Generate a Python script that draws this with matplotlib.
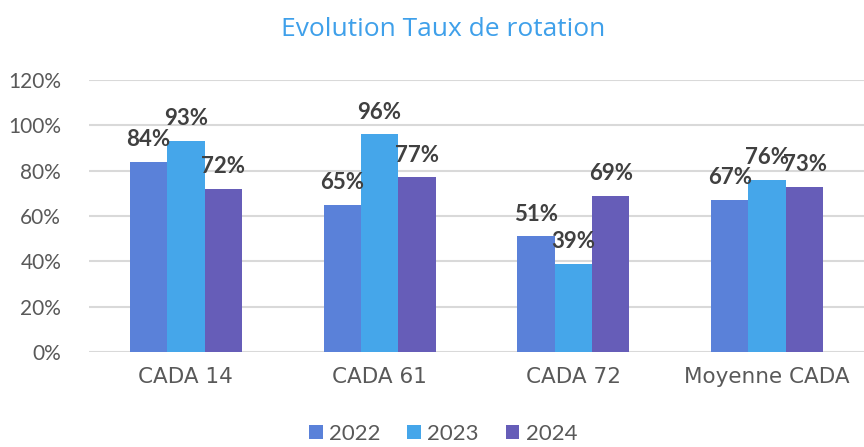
import numpy as np
import matplotlib.pyplot as plt

categories = ['CADA 14', 'CADA 61', 'CADA 72', 'Moyenne CADA']
years = ['2022', '2023', '2024']
v2022 = [84, 65, 51, 67]
v2023 = [93, 96, 39, 76]
v2024 = [72, 77, 69, 73]
yticks = [0, 20, 40, 60, 80, 100, 120]

colors = ['#5A81D9', '#45A6EA', '#665DB8']
series = [v2022, v2023, v2024]

plt.rcParams['font.family'] = ['Lato', 'DejaVu Sans']

fig = plt.figure(figsize=(8.64, 4.47), dpi=100)
ax = fig.add_axes([0.103, 0.2125, 0.897, 0.6085])

x = np.arange(len(categories))
w = 0.193
for i, (vals, yr) in enumerate(zip(series, years)):
    pos = x + (i - 1) * w
    ax.bar(pos, vals, width=w, color=colors[i], label=yr, zorder=3)
    for px, v in zip(pos, vals):
        ax.annotate(f'{v}%', (px, v), xytext=(0, 16), textcoords='offset points',
                    ha='center', va='center', fontsize=16, fontweight='bold',
                    color='#404040', zorder=4)

ax.set_xlim(-0.5, 3.5)
ax.set_ylim(0, 120)
ax.set_yticks(yticks)
ax.set_yticklabels([f'{t}%' for t in yticks], fontsize=15, color='#595959')
ax.set_xticks(x)
ax.set_xticklabels(categories, fontsize=15.5, color='#595959',
                   family='DejaVu Sans')
ax.tick_params(length=0, axis='y', pad=20)
ax.tick_params(length=0, axis='x', pad=11)
ax.grid(axis='y', color='#D9D9D9', linewidth=1.5, zorder=0)
for s in ax.spines.values():
    s.set_visible(False)

fig.text(0.513, 0.935, 'Evolution Taux de rotation', ha='center', va='center',
         fontsize=19, color='#3FA0EA', family='Open Sans')

fig.legend(loc='center', bbox_to_anchor=(0.513, 0.03), ncol=3, frameon=False,
           fontsize=16, handlelength=0.6, handleheight=0.6, handletextpad=0.3,
           columnspacing=1.2, labelcolor='#595959')

fig.savefig('out.png', dpi=100)
